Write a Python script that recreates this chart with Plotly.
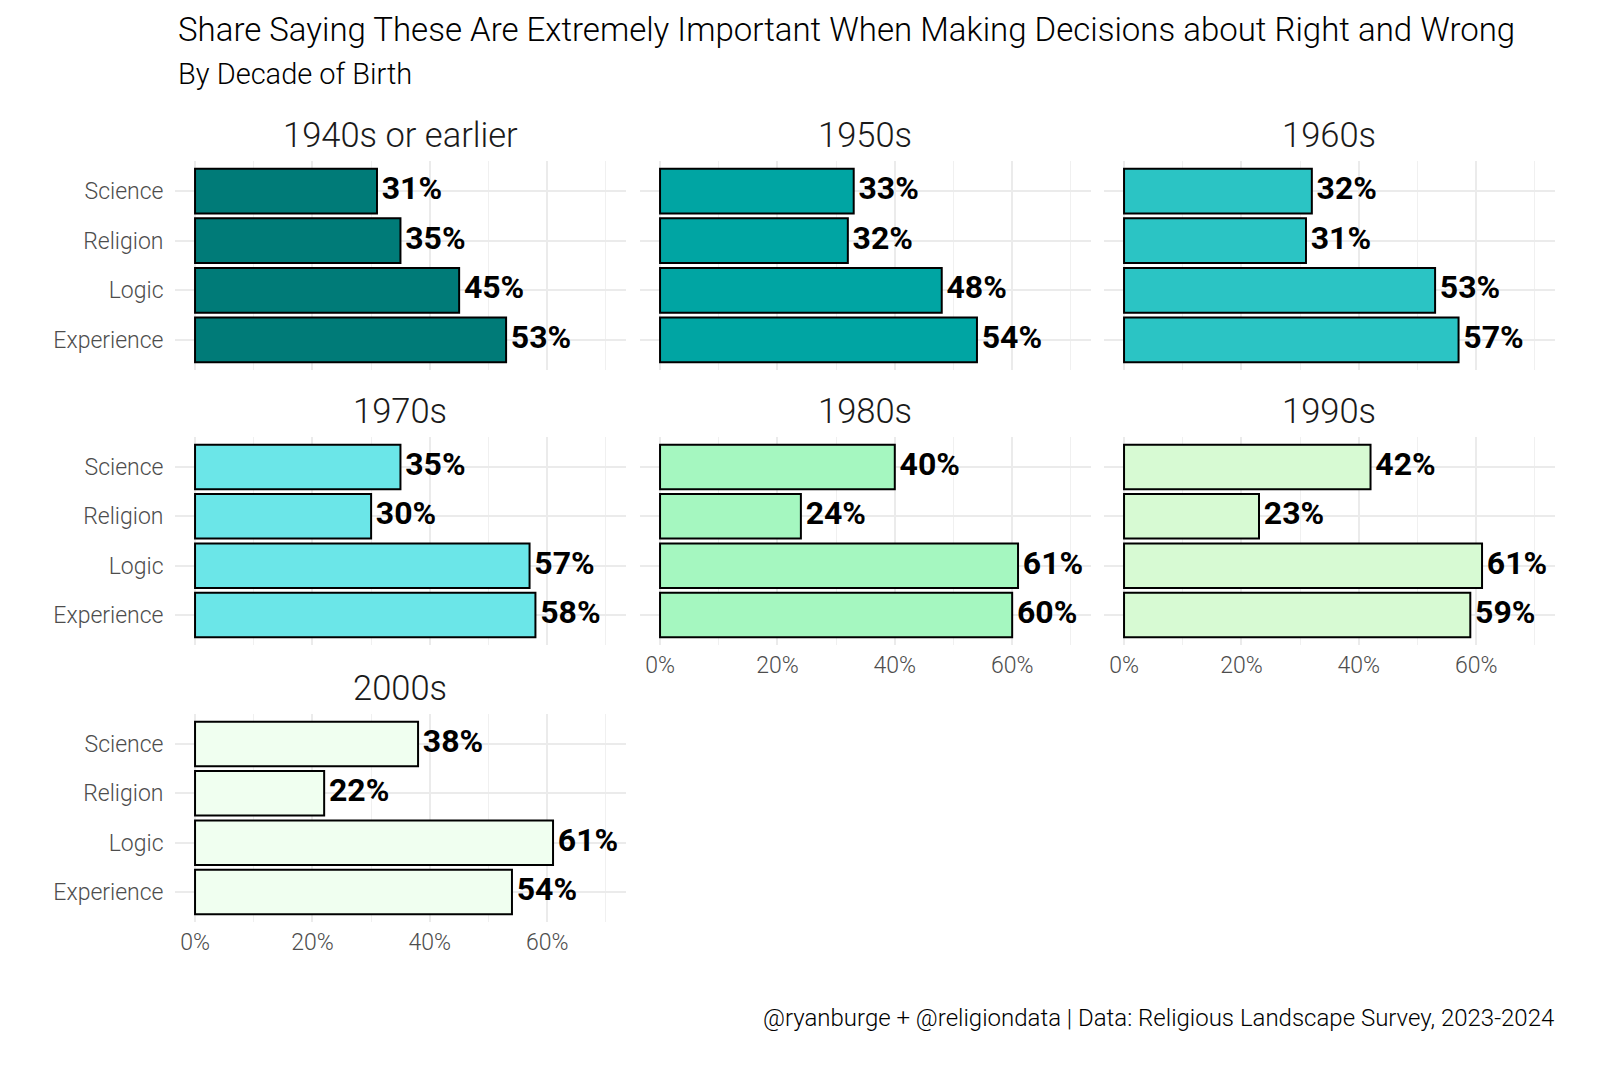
import plotly.graph_objects as go

categories = ["Science", "Religion", "Logic", "Experience"]
decades = ["1940s or earlier", "1950s", "1960s", "1970s", "1980s", "1990s", "2000s"]
values = {
    "1940s or earlier": [31, 35, 45, 53],
    "1950s": [33, 32, 48, 54],
    "1960s": [32, 31, 53, 57],
    "1970s": [35, 30, 57, 58],
    "1980s": [40, 24, 61, 60],
    "1990s": [42, 23, 61, 59],
    "2000s": [38, 22, 61, 54],
}
colors = ["#007b78", "#00a5a3", "#2bc4c4", "#6be6e8", "#a5f7c0", "#d7fad3", "#f0fff0"]
x_ticks = [0, 20, 40, 60]
x_tick_labels = ["0%", "20%", "40%", "60%"]

# page body has an 8px margin; size the figure so the page is exactly 1600x1066
OFF = 8
W, H = 1600 - 2 * OFF, 1066 - 2 * OFF
FONT = "Roboto, Liberation Sans, sans-serif"


def px(xr):
    return (xr - OFF) / W


def py(yr):
    return 1 - (yr - OFF) / H


# panel pixel geometry (reference pixels)
col_px = [(174.5, 626.4), (639.5, 1091.4), (1103.5, 1555.4)]
row_px = [(161.3, 369.7), (437.3, 644.7), (714.3, 921.7)]

fig = go.Figure()
layout = {}
annotations = []

for i, dec in enumerate(decades):
    r, c = divmod(i, 3)
    ax = "" if i == 0 else str(i + 1)
    xa, ya = "x" + ax, "y" + ax
    vals = values[dec]
    fig.add_trace(go.Bar(
        x=vals, y=categories, orientation="h", xaxis=xa, yaxis=ya,
        marker=dict(color=colors[i], line=dict(color="black", width=2)),
        width=0.9, showlegend=False, hoverinfo="skip",
    ))
    fig.add_trace(go.Scatter(
        x=vals, y=categories, mode="markers+text", xaxis=xa, yaxis=ya,
        marker=dict(size=6, opacity=0),
        text=[f"{v}%" for v in vals], textposition="middle right",
        textfont=dict(family=FONT, size=32, color="black", weight="bold"),
        cliponaxis=False, showlegend=False, hoverinfo="skip",
    ))
    x0, x1 = col_px[c]
    y0, y1 = row_px[r]
    show_x = (r == 2) or (r == 1 and c > 0)
    layout["xaxis" + ax] = dict(
        domain=[px(x0), px(x1)], anchor=ya, range=[-3.5, 73.5],
        tickvals=x_ticks, ticktext=x_tick_labels, showticklabels=show_x,
        showgrid=True, gridcolor="#ebebeb", gridwidth=2, zeroline=False,
        minor=dict(tickvals=[10, 30, 50, 70], showgrid=True, gridcolor="#f0f0f0", gridwidth=1),
        tickfont=dict(family=FONT, size=23, color="#4d4d4d", weight=300), ticks="",
        ticklabelstandoff=4, showline=False, fixedrange=True,
    )
    layout["yaxis" + ax] = dict(
        domain=[py(y1), py(y0)], anchor=xa,
        type="category", categoryorder="array", categoryarray=categories[::-1],
        range=[-0.6, 3.6], showticklabels=(c == 0),
        showgrid=True, gridcolor="#ebebeb", gridwidth=2, zeroline=False,
        tickfont=dict(family=FONT, size=23, color="#4d4d4d", weight=300), ticks="",
        ticklabelstandoff=10, fixedrange=True,
    )
    annotations.append(dict(
        text=dec, x=px((x0 + x1) / 2), y=py(y0 - 26), xref="paper", yref="paper",
        xanchor="center", yanchor="middle", showarrow=False,
        font=dict(family=FONT, size=34.5, color="#1a1a1a", weight=300),
    ))

annotations.append(dict(
    text="Share Saying These Are Extremely Important When Making Decisions about Right and Wrong",
    x=px(176), y=py(29), xref="paper", yref="paper", xanchor="left", yanchor="middle",
    showarrow=False, font=dict(family=FONT, size=33, color="black", weight=300),
))
annotations.append(dict(
    text="By Decade of Birth",
    x=px(176), y=py(74), xref="paper", yref="paper", xanchor="left", yanchor="middle",
    showarrow=False, font=dict(family=FONT, size=29, color="black", weight=300),
))
annotations.append(dict(
    text="@ryanburge + @religiondata | Data: Religious Landscape Survey, 2023-2024",
    x=px(1556), y=py(1018), xref="paper", yref="paper", xanchor="right", yanchor="middle",
    showarrow=False, font=dict(family=FONT, size=24, color="black", weight=300),
))

fig.update_layout(
    width=W, height=H, margin=dict(l=0, r=0, t=0, b=0),
    paper_bgcolor="white", plot_bgcolor="white",
    annotations=annotations, bargap=0.1, **layout,
)
fig.write_html("out.html")
